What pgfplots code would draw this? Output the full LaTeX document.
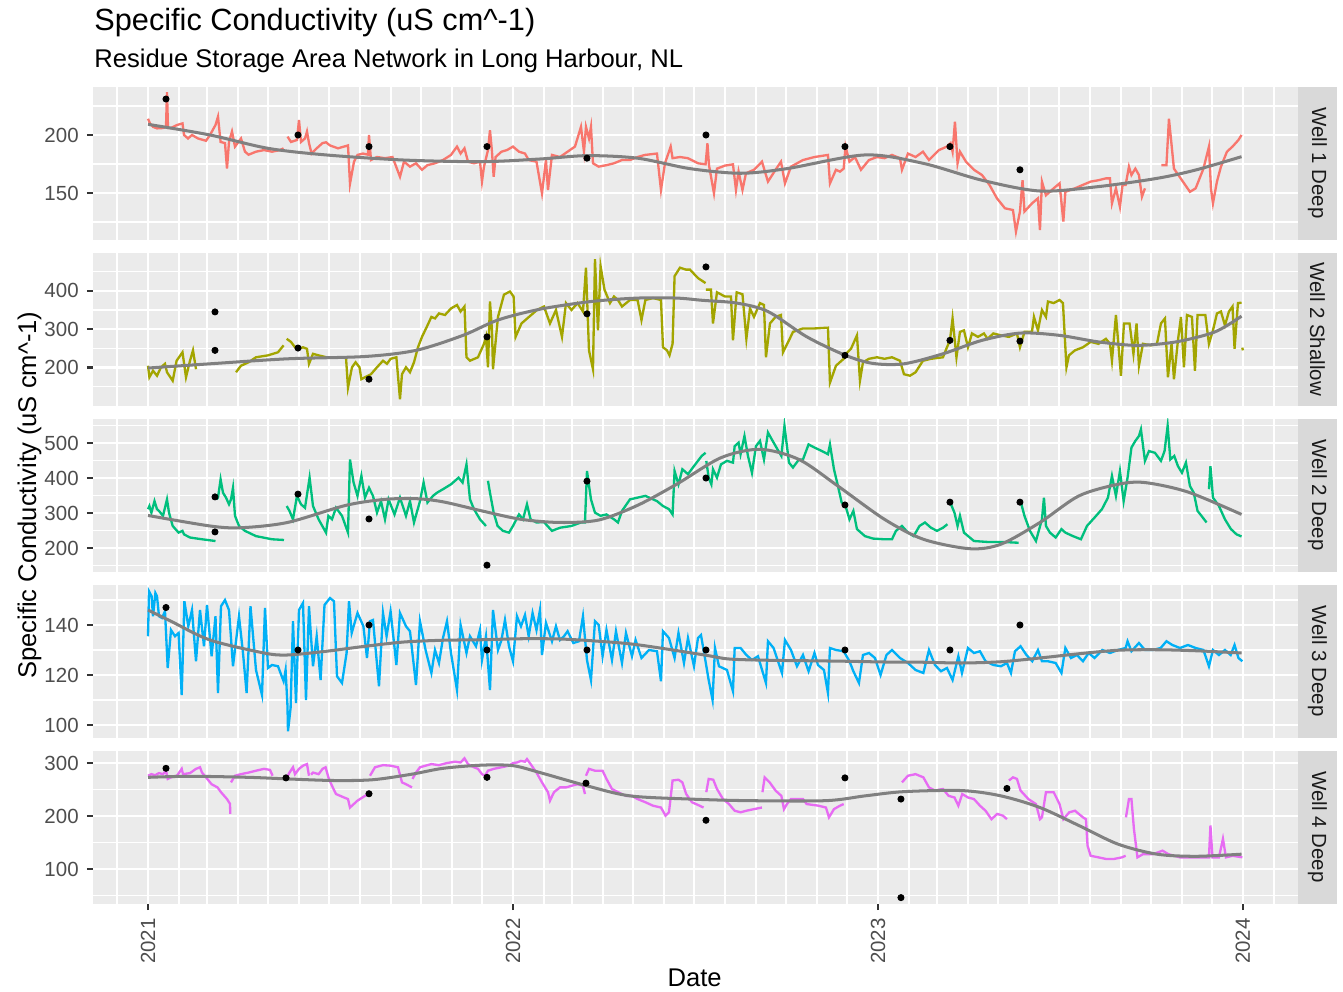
\documentclass[border=0pt]{standalone}
\usepackage{fontspec}
\setmainfont{Liberation Sans}
\usepackage{pgfplots}
\pgfplotsset{compat=1.18}
\definecolor{panelbg}{HTML}{EBEBEB}
\definecolor{stripbg}{HTML}{D9D9D9}
\definecolor{tickc}{HTML}{333333}
\definecolor{ticklab}{HTML}{4D4D4D}
\definecolor{striptext}{HTML}{1A1A1A}
\definecolor{wa}{HTML}{F8766D}
\definecolor{wb}{HTML}{A3A500}
\definecolor{wc}{HTML}{00BF7D}
\definecolor{wd}{HTML}{00B0F6}
\definecolor{we}{HTML}{E76BF3}
\definecolor{smoothc}{HTML}{808080}
\pgfplotsset{
 facet/.style={
  scale only axis, width=517.9pt, height=65.88pt,
  anchor=north west,
  xmin=-54.75, xmax=1149.75,
  axis background/.style={fill=panelbg},
  axis line style={draw=none},
  xtick={0,365,730,1095},
  minor xtick={-31,31,59,90,120,151,181,212,243,273,304,334,396,424,455,485,516,546,577,608,638,669,699,761,789,820,850,881,911,942,973,1003,1034,1064,1126},
  xticklabels={},
  grid=both,
  major grid style={draw=white, line width=1.07pt},
  minor grid style={draw=white, line width=0.53pt},
  tick align=outside,
  major tick length=2.75pt, minor tick length=0pt,
  xtick pos=bottom, ytick pos=left,
  tick style={draw=tickc, line width=1.07pt},
  xtick style={draw=none},
  yticklabel style={font=\fontsize{8.8}{10}\selectfont, text=ticklab},
  /pgf/number format/assume math mode=true,
  clip=true,
 },
 dl/.style={line width=1.0pt, #1},
 sm/.style={line width=1.3pt, smoothc, smooth},
 pt/.style={only marks, mark=*, mark size=1.3pt, black},
}
\newcommand{\fs}[1]{\fontsize{#1}{#1}\selectfont}
\begin{document}
\begin{tikzpicture}
\path[use as bounding box] (0pt,0pt) rectangle (577.49pt,-426.13pt);
\node[anchor=base west, inner sep=0pt] at (40.4pt,-13.3pt) {\fs{13.2}Specific Conductivity (uS cm\^{}-1)};
\node[anchor=base west, inner sep=0pt] at (40.4pt,-29.2pt) {\fs{11}Residue Storage Area Network in Long Harbour, NL};

% ---------- Panel 1 ----------
\begin{axis}[facet, at={(40.1pt,-37.195pt)}, ymin=109.7, ymax=241.8, ytick={150,200}, minor ytick={125,175,225}]
\addplot[dl=wa] coordinates {(0,214)(2,210)(5,207)(9,205.7)(15,206)(18,207)(19,237)(20,206)(23,206)(29,208.6)(34.5,210)(36,200)(40,197)(44,200)(50,197)(58,195)(62,200)(67.5,208.6)(70,215.8)(72.6,194)(77,193)(79,171)(81,194)(84,203)(87,190)(93,197)(97,185.6)(100.6,183)(108,185.6)(116,187)(124,185.6)(132,187)(135.6,188.5)};
\addplot[dl=wa] coordinates {(139.5,198.6)(143,194)(149,195.7)(151,213)(153,194)(157,197)(159,203)(161,193)(163.6,184)(168.7,188.5)(174.5,193)(178,193.7)(182,191)(190,188.5)(200,191)(202,158)(206,177)(209.5,182.8)(215,184)(220,183)(221,200)(223,178.4)(229,181)(237,180)(244.5,181)(252,164)(256,177)(262,172.7)(268,175.6)(274,170)(279.5,174)(287,175.6)(295,178.4)(303,182.8)(309,190)(312.6,184)(316.5,188.5)(320,177)(326,175.6)(332,177)(334,159.8)(336,172.7)(340,187)(342,204)(344,185.6)(345.7,164)(347.6,181)(353.5,185.6)(359,187)(365,190)(371,185.6)(377,184)(380.7,178.4)(388.5,177)(394,149.7)(398,178.4)(400,152.6)(404,182.8)(412,181)(419.6,185.6)(427,190)(433,207)(436,185.6)(438,207)(441,197)(443,207)(445,175.6)(450.7,172.7)(458.5,174)(466,175.6)(474,178.4)(482,178.4)(489.6,181)(497,182.8)(509,184)(513,152.6)(517,175.6)(522.7,190)(524.6,180)(532,181)(540,180)(550,175.6)(557.6,174.7)(559.5,192.8)(561,174)(566,149.7)(569,171)(577,173.6)(585,174.7)(588,152.6)(590.6,168.4)(594.5,152.6)(598,167)(606,170)(614,177)(620,159.8)(627.6,170)(633,177)(637,158.3)(643,172.7)(655,178.4)(666.5,181)(680,182.8)(682,158.3)(688,170)(692,168.4)(695.7,171)(697.6,190)(701.5,177)(707,181)(713,170)(721,178.4)(729,181)(736.5,180)(744,182.8)(752,180)(754,170)(760,184)(767.6,181)(775,185.6)(781,178.4)(791,187)(799,190)(802.6,193)(804.6,185.6)(807,211.5)(809.6,175.6)(812,185.6)(818,177)(826,170)(834,165.5)(841.5,157)(849,145.4)(857,136.8)(865,135.3)(868,116.7)(872,134)(874.6,161)(876.5,134)(884,141)(890,145.4)(892,118)(894,159.8)(898,148)(905.7,154)(911.6,158.3)(915.4,125.3)(917.4,151)(927,154)(935,157)(942.7,159.8)(950.5,161)(958,162.6)(962,162.6)(964,141)(968,154)(972,138)(974.6,157)(977.7,157)(981,172.7)(983.5,165.5)(987.4,171)(991,165.5)(994,146.8)(997,154)};
\addplot[dl=wa] coordinates {(1013.5,174)(1018.5,174)(1021,214)(1026,171)(1034,161)(1042,151)(1047.7,154)(1055.5,171)(1061,190)(1063,154)(1065,141)(1069,159.8)(1073,172.7)(1079,185.6)(1084.6,190)(1090.5,195.7)(1093.6,200)};
\addplot[sm] coordinates {(0,209.2)(62,200)(120,188.5)(178,182.8)(256,178.4)(334,177)(392,179.3)(439,182.2)(489.6,180)(542,171)(592.6,167)(639,171)(717,182.8)(775,175.6)(834,161)(892,151.7)(950.5,155.5)(1009,162.6)(1047.7,169.8)(1093.6,181.3)};
\addplot[pt] coordinates {(18,231)(150,200)(221,190)(339,190)(439,180)(558,200)(697,190)(802,190)(872,170)};
\end{axis}

% ---------- Panel 2 ----------
\begin{axis}[facet, at={(40.1pt,-108.575pt)}, ymin=101, ymax=499.5, ytick={200,300,400}, minor ytick={150,250,350,450}]
\addplot[dl=wb] coordinates {(0,205)(1.4,175)(5,192)(9,179)(13,201)(17,210)(19,188)(24.7,166)(28.6,218)(34.5,240)(38,175)(42,218)(45,245)(48,196)};
\addplot[dl=wb] coordinates {(88,188)(93,205)(100.6,214)(108,227)(120,232)(130,240)(135.6,258)};
\addplot[dl=wb] coordinates {(138.7,275)(143,267)(147,253)(151,249)(155,253)(159,249)(161,210)(165,236)(170.6,232)(178.4,227)(186,227)(198,227)(200,148)(204,201)(207.6,214)(211.5,201)(213.4,170)(217,175)(223,183)(229,201)(235,218)(239,210)(242.6,223)(248.4,227)(252,118)(254,183)(258,201)(262,188)(266,214)(270,253)(274,280)(279.5,310)(283.4,332)(287,328)(291,341)(297,337)(303,354)(309,363)(312.6,346)(316.5,359)(318.5,227)(322,218)(330,227)(336,262)(338,280)(340,201)(342,372)(344,297)(345,196)(350,332)(356,390)(362,398)(365.6,385)(367.6,280)(373.5,315)(381,332)(389,350)(396,359)(402,315)(408,350)(414,280)(418,368)(423.5,350)(429.6,368)(435,346)(438,460)(441,245)(445,196)(447,482)(450,297)(452.6,464)(456.5,403)(462,368)(466,385)(470,376)(474,359)(482,376)(489.6,376)(493.5,324)(497.4,376)(505,381)(513,376)(515,253)(519,245)(521.5,232)(524.6,262)(526.6,438)(532,460)(538,455)(542,455)(550,433)(557.6,420)};
\addplot[dl=wb] coordinates {(558,403)(559.5,403)(563,403)(565,315)(569,396)(577,385)(583,385)(585,271)(588.7,396)(594.5,391)(598.4,275)(602,354)(606,332)(612,368)(616,363)(618,227)(622,315)(627.6,332)(633,337)(635,240)(641,271)(645,293)(655,302)(666.5,302)(680,304)(682,161)(688,205)(695.7,223)(699.5,240)(703,249)(709,284)(712,166)(715,214)(721,223)(729,227)(736.5,223)(744,227)(752,218)(756,183)(762,179)(767.6,188)(775,218)(783,223)(795,227)(799,253)(802,271)(804.6,328)(808.5,227)(812,293)(816,297)(820,253)(824,289)(830,280)(836,289)(839.6,275)(845.4,289)(853,284)(861,280)(869,289)(872,253)(876.5,293)(884,293)(886,332)(890,297)(894,350)(898,332)(900,372)(905.7,368)(911.6,376)(915,368)(918.5,201)(921,232)(927,245)(935,253)(942.7,267)(950.5,262)(958,275)(962,262)(964,218)(968,337)(973,179)(976,315)(981.6,315)(985.5,236)(988.6,315)(991,205)(995,262)(1003,258)(1009,262)(1013,315)(1017,328)(1020,175)(1023.6,262)(1026,170)(1030,271)(1033,332)(1036,201)(1039,337)(1044,332)(1047,192)(1049.6,337)(1057.4,337)(1061,262)(1065,297)(1069,341)(1073,346)(1077,310)(1081,346)(1084.6,359)(1086.6,249)(1090,368)(1093.6,369)};
\addplot[dl=wb] coordinates {(1094.3,252)(1095,245)};
\addplot[sm] coordinates {(0,199)(62,210)(139.5,223)(217,229)(268,245)(315,284)(350,324)(392,352)(443,372)(489.6,381)(528.5,381)(555,375)(588.7,368)(620,346)(659,280)(697.6,232)(725,211)(756,210)(795,236)(834,271)(872.6,290)(911.6,284)(950.5,267)(989,258)(1028,267)(1067,293)(1093.6,334)};
\addplot[pt] coordinates {(67,345)(67,245)(150,251)(221,170)(339,280)(439,340)(558,462)(697,232)(802,271)(872,269)};
\end{axis}

% ---------- Panel 3 ----------
\begin{axis}[facet, at={(40.1pt,-179.955pt)}, ymin=132.3, ymax=570, ytick={200,300,400,500}, minor ytick={150,250,350,450,550}]
\addplot[dl=wc] coordinates {(0,311)(1.4,320)(3.4,301)(6.5,334)(9,311)(11,306)(15,292)(19,339)(21,301)(24.7,263)(30.6,244)(34.5,249)(36,239)(42,230)(54,225)(67.5,220)};
\addplot[dl=wc] coordinates {(68.7,339)(70,344)(72.6,396)(75,358)(78,344)(81,325)(83,339)(85,372)(87,292)(91,263)(97,249)(108,234)(124,225)(136,223)};
\addplot[dl=wc] coordinates {(138.7,320)(141.5,306)(145,282)(149,349)(153,325)(157,315)(161.6,401)(165,320)(170.6,282)(178,244)(180.4,292)(184,282)(188,315)(194,292)(200,244)(202,453)(205.6,387)(209.5,349)(213.4,406)(217,344)(221,372)(225,349)(229,301)(233,334)(237,282)(240.6,339)(246.5,296)(252,344)(258,292)(262,334)(266,273)(272,334)(275.6,387)(279.5,330)(285,349)(289,358)(295,368)(303,382)(310.6,401)(314.6,387)(318.5,439)(322,339)(326,311)(332,282)(338,263)};
\addplot[dl=wc] coordinates {(340,392)(342,358)(345.7,301)(349.6,263)(355,249)(361,244)(365,263)(371,296)(375,282)(379,325)(382.6,282)(388.5,273)(396,274)(404,249)(412,258)(423.5,263)(433,273)(437,273)(439,420)(443,339)(447,301)(452.6,292)(458.5,296)(466,282)(470,273)(474,306)(482,339)(489.6,344)(497.4,349)(509,334)(515,320)(521,311)(524.6,296)(526.6,420)(530.5,382)(534.4,425)(540,411)(546,434)(553.7,463)(557.6,472)};
\addplot[dl=wc] coordinates {(558.3,449)(560.7,401)(563.4,382)(565,425)(569,401)(573,439)(579,449)(585,444)(586.7,491)(590.6,501)(592.6,468)(596.5,520)(600,463)(604,415)(608,491)(612,506)(616,453)(620,530)(623.7,511)(629.5,482)(633.4,463)(636.5,549)(641,444)(645,430)(651,453)(655,453)(660.6,496)(666.5,487)(674,477)(680,468)(682,496)(686,425)(690,377)(693.7,330)(697.6,320)(701.5,282)(705.4,306)(709,254)(717,234)(725,227)(736.5,225)(744,225)(748,249)(754,263)(760,244)(765.7,234)(771.5,263)(777,273)(783,258)(789,249)(795,258)(799.5,268)};
\addplot[dl=wc] coordinates {(802,332)(806.5,301)(809.6,263)(812,292)(816,244)(826,220)(841.5,217)(857,217)(870.7,215)};
\addplot[dl=wc] coordinates {(872.6,334)(876.5,292)(882,249)(888,220)(894,282)(896,344)(898,263)(902,244)(907.7,230)(913.5,254)(917.4,244)(925,234)(933,225)(939,263)(946.6,287)(954,311)(960,344)(964,406)(968,349)(972,420)(975.7,334)(979.6,401)(983.5,487)(987.4,506)(991,520)(993,539)(997,449)(1001,477)(1007,472)(1013,449)(1016.6,477)(1019.7,549)(1022.4,453)(1026.3,463)(1030,434)(1034,415)(1038,444)(1042,377)(1045.8,358)(1049.6,306)(1053.5,292)(1058.6,273)};
\addplot[dl=wc] coordinates {(1061,368)(1062.5,434)(1065,344)(1071,320)(1077,282)(1083,254)(1088.6,239)(1093.6,233)};
\addplot[sm] coordinates {(0,293)(62,263)(93,258)(139.5,273)(198,322)(237,339)(268,341)(295,332)(334,306)(373,282)(412,273)(450.7,280)(489.6,322)(528.5,382)(573,458)(612,482)(651,453)(690,377)(736.5,282)(775.4,225)(822,198)(853,211)(892,273)(931,349)(970,382)(997,387)(1040,360)(1093.6,296)};
\addplot[pt] coordinates {(67,346)(67,246)(150,354)(221,283)(339,151)(439,391)(558,400)(697,323)(802,331)(872,331)};
\end{axis}

% ---------- Panel 4 ----------
\begin{axis}[facet, at={(40.1pt,-251.335pt)}, ymin=94.9, ymax=156.2, ytick={100,120,140}, minor ytick={110,130,150}]
\addplot[dl=wd] coordinates {(0,135.5)(1,153.5)(3.6,151.5)(5,143.5)(7.4,152.8)(9,151.5)(11,143.5)(14,142.8)(17,145.5)(19.7,122.8)(23,138)(27,135.5)(30.6,136.8)(33.7,112)(36.4,149.5)(40.3,139.5)(44,146)(48,125.5)(52,146)(56,131.5)(59,148)(63.6,127.5)(67.5,143.5)(70,112.8)(73,147.5)(77,150)(81,146)(85,123.5)(91,143.5)(95,128.8)(98.6,112.8)(102.5,147.5)(108,122)(114,112)(117,146.8)(120,122.8)(124,124)(130,123.5)(135.6,117.5)(137.6,122)(139.5,107.5)(140,97.5)(142.6,106.8)(145,141.5)(148,108.8)(151,146)(155,148.8)(158,110)(161,147.5)(165,123.5)(168.7,135.5)(172.6,118)(176.5,148)(182,150.8)(186,149.5)(189,119.5)(194,116.8)(198.6,128.8)(201,149.5)(203.7,136.8)(209.5,144.8)(215.4,139.5)(219,126.8)(222,141.5)(225,142)(231,115.5)(235,144.8)(238.6,135.5)(242.6,145.5)(248.4,124)(252,144.8)(258,139.5)(262,137.5)(268,116)(272,141.5)(277.6,130)(283.4,120.8)(287,130)(291,124.8)(295,134.8)(299,141.5)(303,128.8)(309,114)(312.6,140)(318.5,128.8)(322,135.5)(328,131.5)(332,138)(334,126)(338,135.5)(342,114)(345,146)(350,130)(353.5,134)(357,142)(361,131.5)(365,125.5)(369,143.5)(373,139.5)(377,144)(380.7,135.5)(384.6,144.8)(388.5,138)(392,146)(394,128)(398,140.8)(404,133.5)(408,139.5)(412,134)(416,135.5)(419.6,137.5)(425.4,132.8)(431,133.5)(435,143.5)(439,126)(443,118)(447,141.5)(450.7,140)(454.6,127.5)(458.5,138)(464,126)(468,137.5)(474,124.8)(478,136.8)(484,127.5)(487.6,134)(493.5,126.8)(501,130)(509,129.5)(513,117.5)(515,137.5)(521,134.8)(526.6,126.8)(530.5,136.8)(536,124.8)(540,134.8)(546,123.5)(550,134.8)(553,136)(557,126.8)(560.7,118)(564.6,110)(567,130.8)(571,123.5)(579,122)(585,113.5)(586.7,130.8)(592.6,130.8)(598.4,128)(604,126)(610,127.5)(618,116.8)(620,133.5)(625.6,130.8)(634,120.8)(637,134)(643,130)(649,123.5)(655,128)(660.6,121.5)(666.5,128.8)(670,124)(676,122)(680,112.8)(682,130.8)(688,130)(695.7,129.5)(701.5,125.5)(705.4,121.5)(711,116.8)(715,128)(721,128.8)(727,126.8)(732.6,120)(738.5,128)(744,130)(752,126.8)(760,124.8)(767.6,122)(775.4,120.8)(781,130)(787,124)(793,121.5)(799,122.8)(804.6,118)(810.4,127.5)(814,120.8)(820,130.8)(826,128.8)(832,129.5)(837.6,125.5)(845.4,124)(853,123.5)(859,124.8)(863,120.8)(867,129.5)(872.6,131.5)(878.5,128)(884.3,125.5)(890,130)(894,125.5)(900,125.5)(907.7,124.8)(913.5,120.8)(917.4,130.8)(923,126.8)(929,128)(935,125.5)(940.7,128.8)(946.6,126.8)(954.3,130)(962,128.8)(970,130)(977.7,130.8)(979.6,133.5)(983.5,129.5)(991,132.8)(997,130)(1005,130)(1012.7,130.8)(1018.5,133.5)(1024.4,132)(1032,130.8)(1040,132)(1047.7,130.8)(1055.5,130)(1061,123.5)(1065,130)(1071,128)(1077,130)(1082.7,128)(1086.6,132)(1090.5,126.8)(1094.4,125.5)};
\addplot[sm] coordinates {(0,146)(23,141.5)(62,134)(116,128.8)(139.5,128)(178.4,129.5)(217.3,131.5)(256,133.2)(295,133.9)(334,134.1)(373,134.5)(412,134.4)(450.7,133.5)(489.6,132.1)(555,128.1)(581,126.4)(620,125.9)(659,125.7)(697.6,125.5)(736.5,125.2)(775.4,125.1)(814,124.8)(853,125.3)(892,126.8)(931,128.5)(970,129.9)(1009,130.1)(1047.7,129.7)(1093.6,128.8)};
\addplot[pt] coordinates {(18,147)(150,130)(221,140)(339,130)(439,130)(558,130)(697,130)(802,130)(872,140)};
\end{axis}

% ---------- Panel 5 ----------
\begin{axis}[facet, at={(40.1pt,-322.715pt)}, ymin=34.5, ymax=323.6, ytick={100,200,300}, minor ytick={50,150,250},
  xticklabels={2021,2022,2023,2024}, xtick style={draw=tickc, line width=1.07pt},
  xticklabel style={rotate=90, anchor=east, font=\fontsize{8.8}{10}\selectfont, text=ticklab}]
\addplot[dl=we] coordinates {(0,276)(3.4,279)(7,277)(11,281)(15,279)(18,285.5)(19.7,270)(23,273)(29,276)(33.7,289)(35,279)(42,281)(48,289)(52,292)(54,282)(58,273)(63.6,260)(69.5,254)(73,245)(79,232)(82,223)(82.3,204)};
\addplot[dl=we] coordinates {(83,263.5)(87,276)(93,279)(100.6,282)(108,285.5)(116,289)(122,287)(124.6,276)};
\addplot[dl=we] coordinates {(139,273)(141.5,282)(145,292)(147,279)(151,289)(155,295)(159,298)(161,276)};
\addplot[dl=we] coordinates {(163,278)(165,282)(170.6,279)(174.6,289)(177.6,292)(180.4,273)(184,257)(188,241.5)(196,235)(200,232)(202,216)(204,219.5)(209.5,229)(217,238)(221,241.5)};
\addplot[dl=we] coordinates {(222,276)(227,292)(235,296)(242.6,295)(250,292)(254,263.5)(258,260)(264,254)};
\addplot[dl=we] coordinates {(264.5,270)(268,282)(272,292)(277.6,295)(283.4,298)(291,296)(299,300)(307,302.5)(312.6,301)(316.5,309)(320,298)(326,292)(330,289)(334,279)(337,276)(340,285.5)(345.7,289)(353.5,292)(361,295)(365,300)(369,301)(373,304)(377,302.5)(379,307.5)(382.6,298)(388.5,282)(394,263.5)(400,245)(402,229)(406,245)(412,254)(418,254)(423.5,257)(429.6,260)(435,257)(437,241.5)};
\addplot[dl=we] coordinates {(438,276)(441,289)(447,285.5)(454.6,285.5)(458.5,270)(464,251)(470,245)(478,238)(484,238)(489.6,232)(497.4,226)(505,219.5)(513,216)(517.6,200.6)(521,207)(524.6,267)(530.5,268.5)(534.4,263.5)(538.2,241.5)(544,226)(548,222.6)(555.6,216)};
\addplot[dl=we] coordinates {(558.3,245)(560.7,270)(565.3,268.5)(569,251)(575,232)(581,222.6)(586.7,210)(592.6,207)(598.4,210)(606,213)(614,216)};
\addplot[dl=we] coordinates {(614.5,245)(616.7,273)(621.7,263.5)(627.6,248)(633.4,238)(636,213)(639,222.6)(643,232)(655,232)(658.7,222.6)(670.4,219.5)(678,216)(681,197.5)(686,213)(692,219.5)(695.7,222.6)};
\addplot[dl=we] coordinates {(754,263.5)(760,276)(767.6,279)(775.4,273)(781,254)(787,248)(795,251)(800.7,238)(806.5,235)(810.4,219.5)(814.3,241.5)(820,235)(826,232)(832,219.5)(837.6,210)(843.5,194)(849.3,204)(855,200.6)(859,194)};
\addplot[dl=we] coordinates {(861,267)(865,273)(869,270)(872.6,248)(880.4,232)(888,222.6)(892,194)(894,197.5)(898,245)(905.7,245)(911.6,222.6)(915.4,194)(921.3,207)(927,210)(935,197.5)(938,194)(939.6,144)(942.7,125)(950.5,122)(958,119)(966,119)(974,122)(977.7,125)};
\addplot[dl=we] coordinates {(978,197.5)(981,232)(983.5,232)(986,175.5)(989.5,122)(995,128)(1005,128)(1014.6,134.6)(1020.5,128)(1032,122)(1047.7,122)(1061,122)(1062.5,182)(1064.5,122)(1071,122)(1075,157)(1078,122)(1084.6,125)(1094.4,122)};
\addplot[sm] coordinates {(0,273)(42,275)(100.6,273)(139.5,270)(186,267)(225,268.5)(264,279)(295,290)(334,296)(365,295)(392,282)(439,257)(482,238)(542,232)(600,229)(678,229)(717,238)(756,246)(814,248)(853,238)(892,216)(931,182)(970,147)(1009,128)(1047.7,124)(1093.6,128)};
\addplot[pt] coordinates {(18,290)(138,272)(221,242)(339,273)(438,262)(558,192)(697,272)(753,232)(753,46)(859,252)};
\end{axis}

% ---------- Strips ----------
\foreach \t/\c in {37.195/Well 1 Deep, 108.575/Well 2 Shallow, 179.955/Well 2 Deep, 251.335/Well 3 Deep, 322.715/Well 4 Deep}{
  \fill[stripbg] (558.03pt,-\t pt) rectangle (574.91pt,-\t pt-65.88pt);
  \node[rotate=-90, text=striptext, inner sep=0pt] at (566.47pt,-\t pt-32.94pt) {\fs{8.8}\c};
}
% ---------- Axis titles ----------
\node[anchor=base, inner sep=0pt] at (298.7pt,-424.4pt) {\fs{11}Date};
\node[anchor=base, rotate=90, inner sep=0pt] at (15.5pt,-212.9pt) {\fs{11}Specific Conductivity (uS cm\^{}-1)};
\end{tikzpicture}
\end{document}
